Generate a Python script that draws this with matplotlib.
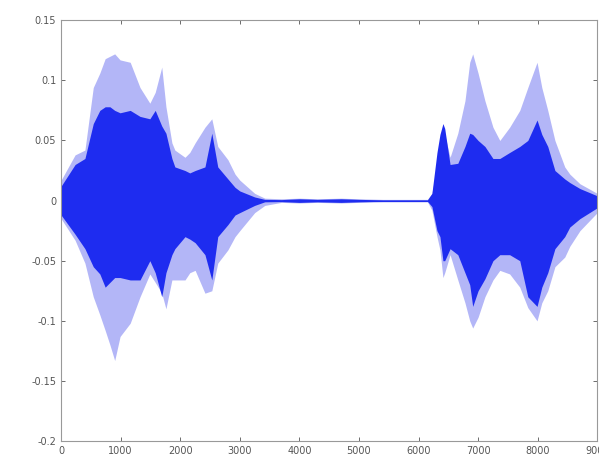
import numpy as np
import matplotlib
matplotlib.use("Agg")
import matplotlib.pyplot as plt

# envelope of the waveform (sample index -> amplitude)
samples = [0, 235, 400, 540, 650, 740, 820, 900, 990, 1160, 1325, 1490, 1580, 1690, 1760,
           1860, 1910, 2080, 2160, 2250, 2415, 2530, 2630, 2800, 2920, 3000, 3250, 3420,
           3700, 4000, 4300, 4700, 5000, 5400, 5800, 6150,
           6225, 6310, 6360, 6410, 6440, 6530, 6660, 6780, 6860, 6910, 7000, 7115, 7250,
           7365, 7530, 7700, 7835, 7990, 8070, 8170, 8290, 8455, 8540, 8710, 9000]

light_top = [0.017, 0.038, 0.042, 0.094, 0.106, 0.118, 0.120, 0.122, 0.117, 0.115, 0.094, 0.081, 0.090, 0.111, 0.078,
             0.048, 0.042, 0.036, 0.040, 0.048, 0.061, 0.068, 0.045, 0.034, 0.022, 0.017, 0.006, 0.002,
             0.0015, 0.002, 0.0015, 0.002, 0.0015, 0.001, 0.001, 0.001,
             0.006, 0.028, 0.045, 0.064, 0.055, 0.036, 0.056, 0.083, 0.115, 0.122, 0.106, 0.083, 0.061,
             0.050, 0.061, 0.075, 0.094, 0.115, 0.094, 0.075, 0.050, 0.028, 0.022, 0.014, 0.006]

light_bot = [-0.015, -0.033, -0.052, -0.080, -0.095, -0.108, -0.120, -0.133, -0.113, -0.102, -0.080, -0.061, -0.068, -0.077, -0.090,
             -0.066, -0.066, -0.066, -0.060, -0.058, -0.077, -0.075, -0.052, -0.041, -0.030, -0.025, -0.010, -0.004,
             -0.0015, -0.002, -0.0015, -0.002, -0.0015, -0.001, -0.001, -0.001,
             -0.008, -0.030, -0.041, -0.064, -0.060, -0.045, -0.066, -0.085, -0.100, -0.106, -0.097, -0.080, -0.066,
             -0.058, -0.061, -0.072, -0.089, -0.100, -0.085, -0.075, -0.055, -0.047, -0.038, -0.025, -0.010]

dark_top = [0.012, 0.030, 0.035, 0.064, 0.075, 0.078, 0.078, 0.075, 0.073, 0.075, 0.070, 0.068, 0.075, 0.062, 0.056,
            0.035, 0.028, 0.025, 0.023, 0.025, 0.028, 0.056, 0.028, 0.018, 0.011, 0.008, 0.003, 0.001,
            0.0008, 0.0015, 0.001, 0.0015, 0.001, 0.0006, 0.0006, 0.0006,
            0.006, 0.040, 0.055, 0.064, 0.060, 0.030, 0.031, 0.045, 0.056, 0.055, 0.050, 0.045, 0.035,
            0.035, 0.040, 0.045, 0.050, 0.067, 0.055, 0.045, 0.025, 0.018, 0.015, 0.010, 0.004]

dark_bot = [-0.012, -0.028, -0.040, -0.055, -0.061, -0.072, -0.068, -0.064, -0.064, -0.066, -0.066, -0.050, -0.060, -0.080, -0.060,
            -0.045, -0.040, -0.030, -0.032, -0.035, -0.045, -0.066, -0.030, -0.020, -0.012, -0.010, -0.004, -0.001,
            -0.0008, -0.0015, -0.001, -0.0015, -0.001, -0.0006, -0.0006, -0.0006,
            -0.005, -0.025, -0.030, -0.050, -0.050, -0.040, -0.045, -0.060, -0.070, -0.088, -0.075, -0.065, -0.050,
            -0.045, -0.045, -0.050, -0.080, -0.088, -0.072, -0.060, -0.040, -0.030, -0.022, -0.015, -0.006]

yticks = [0.15, 0.1, 0.05, 0, -0.05, -0.1, -0.15, -0.2]
ylabels = ["0.15", "0.1", "0.05", "0", "-0.05", "-0.1", "-0.15", "-0.2"]
xticks = [0, 1000, 2000, 3000, 4000, 5000, 6000, 7000, 8000, 9000]

fig = plt.figure(figsize=(5.99, 4.59), dpi=100)
ax = fig.add_axes([0.102, 0.039, 0.895, 0.917])

ax.fill_between(samples, light_bot, light_top, color="#b3b6f7", lw=0)
ax.fill_between(samples, dark_bot, dark_top, color="#1e2cf0", lw=0)
ax.plot([0, 9000], [0, 0], color="#1e2cf0", lw=0.8)

ax.set_xlim(0, 9000)
ax.set_ylim(-0.2, 0.15)
ax.set_yticks(yticks)
ax.set_yticklabels(ylabels)
ax.set_xticks(xticks)
ax.tick_params(direction="in", length=3, labelsize=7, colors="#555555",
               top=True, right=True, width=0.6)
for s in ax.spines.values():
    s.set_color("#999999")
    s.set_linewidth(0.8)

fig.savefig("out.png", dpi=100)
